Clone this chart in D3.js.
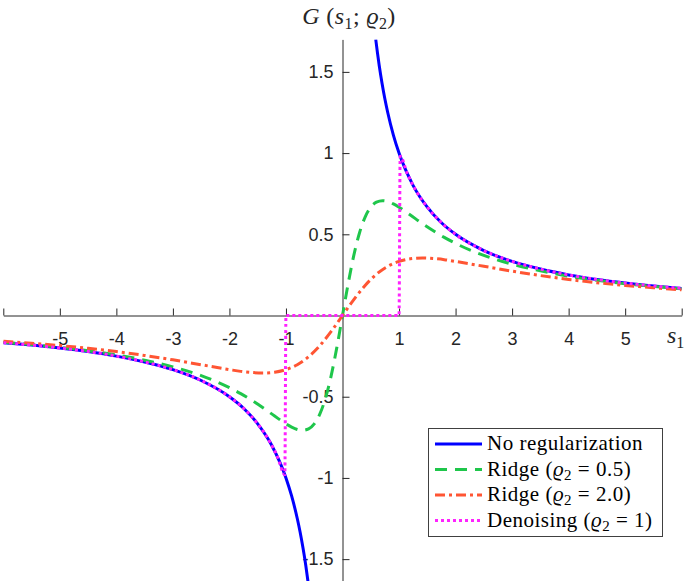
<!DOCTYPE html>
<html>
<head>
<meta charset="utf-8">
<script src="https://cdn.jsdelivr.net/npm/d3@7"></script>
<style>
  html, body { margin: 0; padding: 0; background: #fff; }
  svg { display: block; }
</style>
</head>
<body>
<svg id="chart" width="692" height="581"></svg>
<script>
// ---------------- data ----------------
const xTickValues = [-6, -5, -4, -3, -2, -1, 0, 1, 2, 3, 4, 5, 6];
const xTickLabels = ["", "-5", "-4", "-3", "-2", "-1", "", "1", "2", "3", "4", "5", ""];
const yTickValues = [-1.5, -1, -0.5, 0.5, 1, 1.5];
const yTickLabels = ["-1.5", "-1", "-0.5", "0.5", "1", "1.5"];

// No regularization (null = gap at s = 0)
const sNoReg = [-6, -5.5, -5, -4.5, -4, -3.5, -3, -2.5, -2, -1.75, -1.5, -1.25, -1, -0.9, -0.8, -0.75, -0.7, -0.65, -0.61,
                0, 0.588, 0.62, 0.65, 0.7, 0.75, 0.8, 0.9, 1, 1.25, 1.5, 1.75, 2, 2.5, 3, 3.5, 4, 4.5, 5, 5.5, 6];
const gNoReg = [-0.167, -0.182, -0.2, -0.222, -0.25, -0.286, -0.333, -0.4, -0.5, -0.571, -0.667, -0.8, -1, -1.111, -1.25, -1.333, -1.429, -1.538, -1.639,
                null, 1.70, 1.613, 1.538, 1.429, 1.333, 1.25, 1.111, 1, 0.8, 0.667, 0.571, 0.5, 0.4, 0.333, 0.286, 0.25, 0.222, 0.2, 0.182, 0.167];

// Ridge rho2 = 0.5
const sRidge05 = [-6, -5.5, -5, -4.5, -4, -3.5, -3, -2.5, -2, -1.8, -1.6, -1.4, -1.2, -1, -0.9, -0.8, -0.707, -0.6, -0.5, -0.4, -0.3, -0.2, -0.1,
                  0, 0.1, 0.2, 0.3, 0.4, 0.5, 0.6, 0.707, 0.8, 0.9, 1, 1.2, 1.4, 1.6, 1.8, 2, 2.5, 3, 3.5, 4, 4.5, 5, 5.5, 6];
const gRidge05 = [-0.164, -0.179, -0.196, -0.217, -0.242, -0.275, -0.316, -0.370, -0.444, -0.481, -0.523, -0.569, -0.619, -0.667, -0.687, -0.702, -0.707, -0.698, -0.667, -0.606, -0.508, -0.370, -0.196,
                  0, 0.196, 0.370, 0.508, 0.606, 0.667, 0.698, 0.707, 0.702, 0.687, 0.667, 0.619, 0.569, 0.523, 0.481, 0.444, 0.370, 0.316, 0.275, 0.242, 0.217, 0.196, 0.179, 0.164];

// Ridge rho2 = 2.0
const sRidge20 = [-6, -5.5, -5, -4.5, -4, -3.5, -3, -2.5, -2, -1.8, -1.6, -1.414, -1.2, -1, -0.8, -0.6, -0.4, -0.2,
                  0, 0.2, 0.4, 0.6, 0.8, 1, 1.2, 1.414, 1.6, 1.8, 2, 2.5, 3, 3.5, 4, 4.5, 5, 5.5, 6];
const gRidge20 = [-0.158, -0.171, -0.185, -0.202, -0.222, -0.246, -0.273, -0.303, -0.333, -0.344, -0.351, -0.354, -0.349, -0.333, -0.303, -0.254, -0.185, -0.098,
                  0, 0.098, 0.185, 0.254, 0.303, 0.333, 0.349, 0.354, 0.351, 0.344, 0.333, 0.303, 0.273, 0.246, 0.222, 0.202, 0.185, 0.171, 0.158];

// Denoising rho2 = 1
const sDenoise = [-6, -5.5, -5, -4.5, -4, -3.5, -3, -2.5, -2, -1.75, -1.5, -1.3, -1.15, -1.02, -1, 1, 1.02, 1.15, 1.3, 1.5, 1.75, 2, 2.5, 3, 3.5, 4, 4.5, 5, 5.5, 6];
const gDenoise = [-0.167, -0.182, -0.2, -0.222, -0.25, -0.286, -0.333, -0.4, -0.5, -0.571, -0.667, -0.769, -0.870, -0.980, 0, 0, 0.980, 0.870, 0.769, 0.667, 0.571, 0.5, 0.4, 0.333, 0.286, 0.25, 0.222, 0.2, 0.182, 0.167];

const seriesNames = ["No regularization", "Ridge (ϱ2 = 0.5)", "Ridge (ϱ2 = 2.0)", "Denoising (ϱ2 = 1)"];

// ---------------- drawing ----------------
const svg = d3.select("#chart");
const x = d3.scaleLinear().domain([-6, 6]).range([3.3, 681.7]);
const y = d3.scaleLinear().domain([-1.65, 1.70]).range([583.5, 39.4]);
const axisColor = "#262626";
const tickFont = "'Liberation Sans', Arial, Helvetica, sans-serif";
const serif = "'Liberation Serif', 'DejaVu Serif', 'Times New Roman', serif";

svg.append("rect").attr("width", 692).attr("height", 581).attr("fill", "#fff");

// x axis through origin
const xAxis = d3.axisBottom(x)
  .tickValues(xTickValues)
  .tickFormat((d, i) => xTickLabels[i])
  .tickSizeInner(-7).tickSizeOuter(0).tickPadding(17);
const gx = svg.append("g").attr("transform", `translate(0,${y(0)})`).call(xAxis);
gx.select(".domain").attr("stroke", axisColor);
gx.selectAll(".tick line").attr("stroke", axisColor);
gx.selectAll(".tick text").attr("fill", axisColor).style("font-family", tickFont).style("font-size", "18px");

// y axis through origin
const yAxis = d3.axisLeft(y)
  .tickValues(yTickValues)
  .tickFormat((d, i) => yTickLabels[i])
  .tickSizeInner(-7).tickSizeOuter(0).tickPadding(9);
const gy = svg.append("g").attr("transform", `translate(${x(0)},0)`).call(yAxis);
gy.select(".domain").attr("stroke", axisColor);
gy.selectAll(".tick line").attr("stroke", axisColor);
gy.selectAll(".tick text").attr("fill", axisColor).style("font-family", tickFont).style("font-size", "18px");

// clip
svg.append("clipPath").attr("id", "plotclip").append("rect")
  .attr("x", x(-6)).attr("y", y(1.70)).attr("width", x(6) - x(-6)).attr("height", y(-1.65) - y(1.70));

function zipS(s, g) { return s.map((v, i) => ({ s: v, g: g[i] })); }
const line = d3.line().defined(d => d.g !== null).x(d => x(d.s)).y(d => y(d.g)).curve(d3.curveMonotoneX);

const series = [
  { data: zipS(sNoReg, gNoReg), color: "#0000ff", dash: null, cap: "butt" },
  { data: zipS(sRidge05, gRidge05), color: "#1fc64b", dash: "12,8", cap: "butt" },
  { data: zipS(sRidge20, gRidge20), color: "#ff5533", dash: "10,4,3,4", cap: "butt" },
  { data: zipS(sDenoise, gDenoise), color: "#ff22ff", dash: "3,3", cap: "butt" }
];

const plot = svg.append("g").attr("clip-path", "url(#plotclip)");
series.forEach(sr => {
  plot.append("path").datum(sr.data)
    .attr("d", line)
    .attr("fill", "none")
    .attr("stroke", sr.color)
    .attr("stroke-width", 3)
    .attr("stroke-linecap", sr.cap)
    .attr("stroke-dasharray", sr.dash);
});

// axis labels
const xl = svg.append("text").attr("x", 667).attr("y", 343)
  .style("font-family", serif).style("font-size", "24px").attr("fill", axisColor);
xl.append("tspan").style("font-style", "italic").text("s");
xl.append("tspan").attr("dy", 5).style("font-size", "16px").text("1");

const title = svg.append("text").attr("x", 349).attr("y", 24).attr("text-anchor", "middle")
  .style("font-family", serif).style("font-size", "24px").style("letter-spacing", "0.4px").attr("fill", axisColor);
title.append("tspan").style("font-style", "italic").text("G");
title.append("tspan").text(" (");
title.append("tspan").style("font-style", "italic").text("s");
title.append("tspan").attr("dy", 5).style("font-size", "16px").text("1");
title.append("tspan").attr("dy", -5).text("; ");
title.append("tspan").style("font-style", "italic").text("ϱ");
title.append("tspan").attr("dy", 5).style("font-size", "16px").text("2");
title.append("tspan").attr("dy", -5).text(")");

// legend
const lg = svg.append("g");
lg.append("rect").attr("x", 428.5).attr("y", 428.5).attr("width", 234).attr("height", 108)
  .attr("fill", "#fff").attr("stroke", "#404040").attr("stroke-width", 1);
const rowY = [444, 469.5, 495, 520.5];
series.forEach((sr, i) => {
  lg.append("line").attr("x1", 435).attr("x2", 482).attr("y1", rowY[i]).attr("y2", rowY[i])
    .attr("stroke", sr.color).attr("stroke-width", 3).attr("stroke-dasharray", sr.dash);
  const t = lg.append("text").attr("x", 487).attr("y", rowY[i] + 6)
    .style("font-family", serif).style("font-size", "21px").style("letter-spacing", "0.5px").attr("fill", "#000");
  const name = seriesNames[i];
  const m = name.match(/^(.*\()ϱ2( = .*)$/);
  if (m) {
    t.append("tspan").text(m[1]);
    t.append("tspan").style("font-style", "italic").text("ϱ");
    t.append("tspan").attr("dy", 4).style("font-size", "15px").text("2");
    t.append("tspan").attr("dy", -4).text(m[2]);
  } else {
    t.text(name);
  }
});
</script>
</body>
</html>
